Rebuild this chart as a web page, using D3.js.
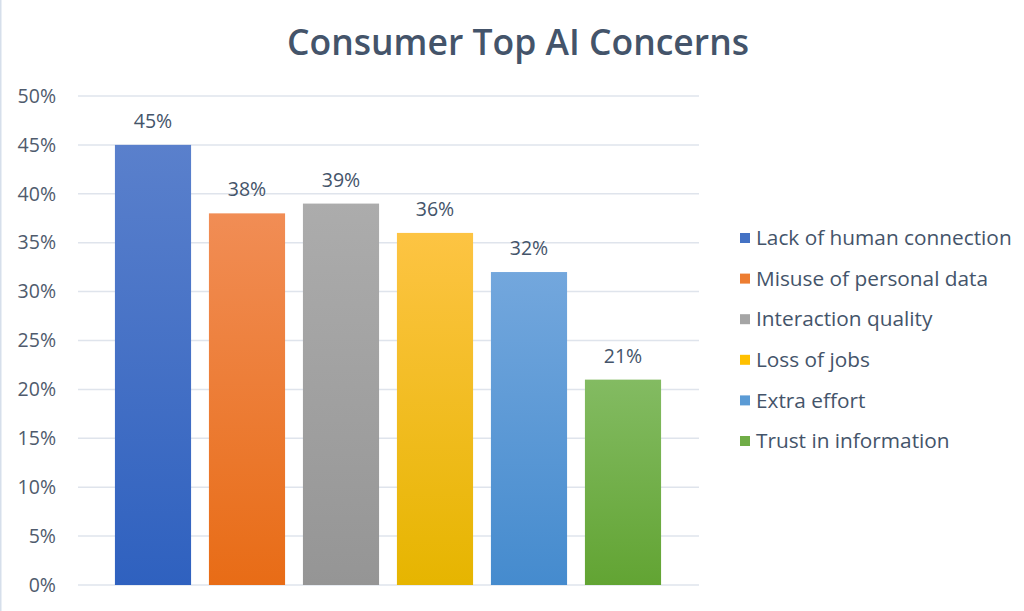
<!DOCTYPE html>
<html>
<head>
<meta charset="utf-8">
<script src="https://cdn.jsdelivr.net/npm/d3@7"></script>
<style>
  body { margin: 0; background: #fff; }
  text { font-family: "Open Sans", "Noto Sans", sans-serif; }
</style>
</head>
<body>
<svg id="chart"></svg>
<script>
const categories = ["Lack of human connection", "Misuse of personal data", "Interaction quality", "Loss of jobs", "Extra effort", "Trust in information"];
const values = [45, 38, 39, 36, 32, 21];
const yTicks = [0, 5, 10, 15, 20, 25, 30, 35, 40, 45, 50];
const topColors = ["#5a80cc", "#f18d55", "#acacac", "#fdc443", "#73a7dd", "#83bb62"];
const bottomColors = ["#2f61bf", "#e86c16", "#959595", "#e6b500", "#458bce", "#62a433"];
const legendColors = ["#4472c4", "#ed7d31", "#a5a5a5", "#ffc000", "#5b9bd5", "#70ad47"];

const W = 1024, H = 611;
let svg = d3.select("#chart").attr("width", W).attr("height", H);

svg.append("rect").attr("x", 0.5).attr("y", -2).attr("width", W + 2).attr("height", H + 4)
    .style("fill", "#fff").style("stroke", "#d6dfeb").style("stroke-width", 2);

const y = d3.scaleLinear().domain([0, 50]).range([585, 96]);
const x = d3.scaleBand().domain(categories).range([106, 670]).paddingInner(0.19).paddingOuter(0.095);

// gradients
let defs = svg.append("defs");
categories.forEach((c, i) => {
    let g = defs.append("linearGradient").attr("id", "grad" + i)
        .attr("x1", 0).attr("y1", 0).attr("x2", 0).attr("y2", 1);
    g.append("stop").attr("offset", "0%").attr("stop-color", topColors[i]);
    g.append("stop").attr("offset", "100%").attr("stop-color", bottomColors[i]);
});

// gridlines
svg.append("g").selectAll("line").data(yTicks).join("line")
    .attr("x1", 78).attr("x2", 699)
    .attr("y1", d => y(d)).attr("y2", d => y(d))
    .style("stroke", "#dfe4ec").style("stroke-width", 1.5);

// y axis labels
let yAxis = d3.axisLeft(y).tickValues(yTicks).tickFormat(d => d + "%").tickSize(0).tickPadding(0);
let ya = svg.append("g").attr("transform", "translate(56,0)").call(yAxis);
ya.select(".domain").remove();
ya.selectAll("text").style("font-family", "'Open Sans', sans-serif").style("font-size", "19.5px").style("fill", "#4f5b6d");

// bars
svg.append("g").selectAll("rect").data(values).join("rect")
    .attr("x", (d, i) => x(categories[i]))
    .attr("width", x.bandwidth())
    .attr("y", d => y(d))
    .attr("height", d => y(0) - y(d))
    .style("fill", (d, i) => `url(#grad${i})`);

// value labels
svg.append("g").selectAll("text").data(values).join("text")
    .attr("x", (d, i) => x(categories[i]) + x.bandwidth() / 2)
    .attr("y", d => y(d) - 17)
    .attr("text-anchor", "middle")
    .style("font-size", "19.5px").style("fill", "#44546a")
    .text(d => d + "%");

// title
svg.append("text").attr("x", 518).attr("y", 55).attr("text-anchor", "middle")
    .style("font-size", "35.5px").style("font-weight", 600).style("fill", "#44546a")
    .text("Consumer Top AI Concerns");

// legend
let legend = svg.append("g").selectAll("g").data(categories).join("g")
    .attr("transform", (d, i) => `translate(740,${238 + i * 40.6})`);
legend.append("rect").attr("x", 0).attr("y", -5).attr("width", 10).attr("height", 10)
    .style("fill", (d, i) => legendColors[i]);
legend.append("text").attr("x", 16).attr("y", 0).attr("dy", "0.35em")
    .style("font-size", "20.8px").style("fill", "#44546a")
    .text(d => d);
</script>
</body>
</html>
